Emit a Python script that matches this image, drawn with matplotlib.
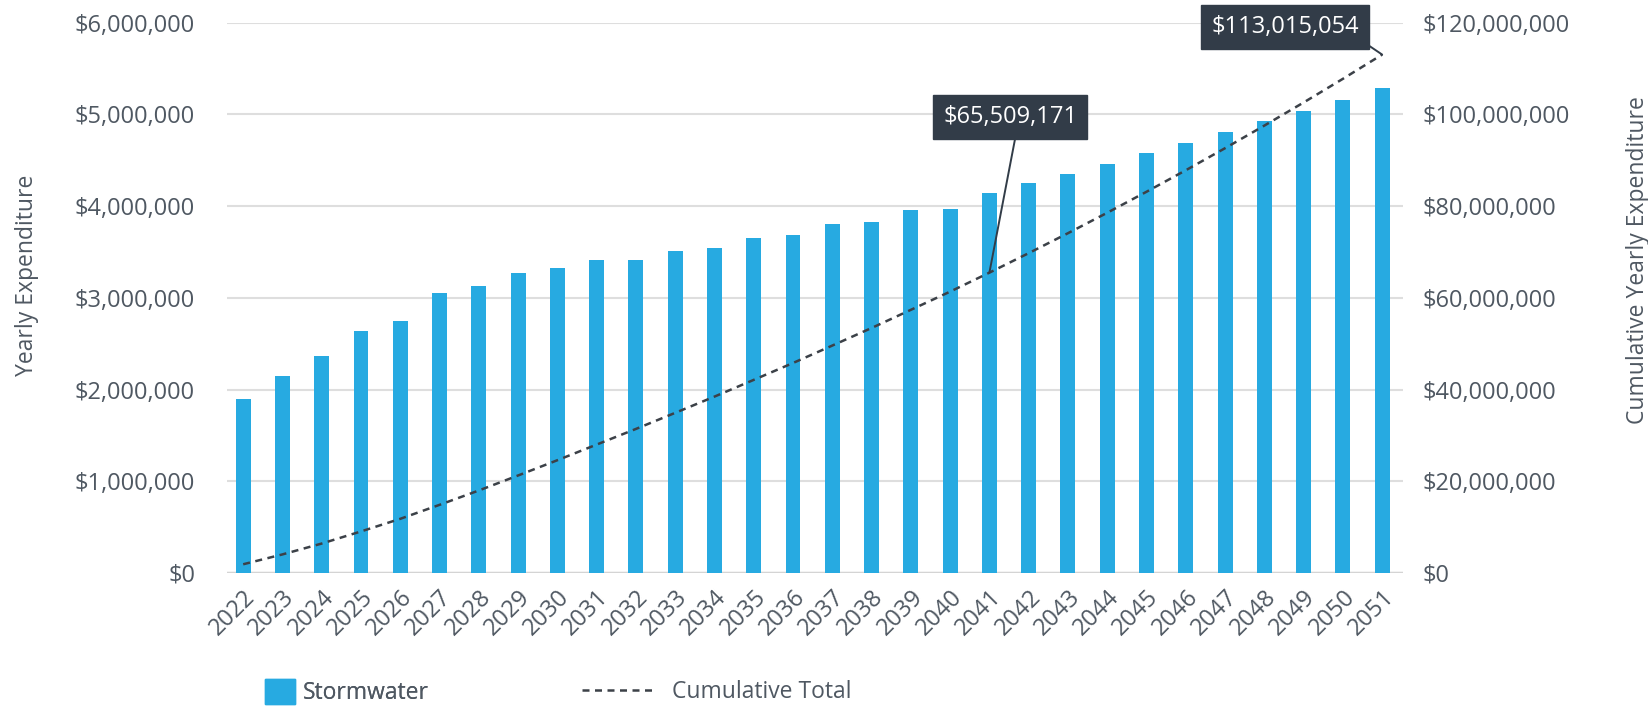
import numpy as np
import matplotlib
matplotlib.use('Agg')
import matplotlib.pyplot as plt
from matplotlib.lines import Line2D
from matplotlib.patches import Patch
from matplotlib.ticker import FuncFormatter, MultipleLocator

plt.rcParams['font.family'] = ['Open Sans', 'DejaVu Sans']

years = list(range(2022, 2052))
stormwater = [1.90, 2.15, 2.37, 2.64, 2.75, 3.05, 3.13, 3.27, 3.33, 3.41,
              3.41, 3.51, 3.54, 3.65, 3.68, 3.80, 3.83, 3.96, 3.97, 4.14,
              4.25, 4.35, 4.46, 4.575, 4.69, 4.81, 4.925, 5.04, 5.16, 5.29]
stormwater = np.array(stormwater) * 1e6
cumulative = np.cumsum(stormwater)

callout_years = [2041, 2051]
callout_text = ['$65,509,171', '$113,015,054']

bar_color = '#27aae1'
text_color = '#4f5862'
grid_color = '#dedede'
box_color = '#323c48'
line_color = '#3c4148'

fig = plt.figure(figsize=(16.49, 7.08), dpi=100)
ax = fig.add_axes([0.1377, 0.1907, 0.8508 - 0.1377, 0.968 - 0.1907])
ax2 = ax.twinx()

x = np.arange(len(years))
ax.bar(x, stormwater, width=0.38, color=bar_color, zorder=3)
ax2.plot(x, cumulative, color=line_color, lw=1.8,
         linestyle=(0, (2.8, 2.2)), zorder=4)

ax.set_xlim(-0.41, 29.53)
ax.set_ylim(0, 6e6)
ax2.set_ylim(0, 120e6)
ax.yaxis.set_major_locator(MultipleLocator(1e6))
ax2.yaxis.set_major_locator(MultipleLocator(20e6))
money = FuncFormatter(lambda v, p: '${:,.0f}'.format(v))
ax.yaxis.set_major_formatter(money)
ax2.yaxis.set_major_formatter(money)

ax.grid(axis='y', color=grid_color, lw=1.5, zorder=0)
ax.axhline(0, color='#d4d4d4', lw=2.5, zorder=2)
ax.set_axisbelow(True)

for a in (ax, ax2):
    for s in a.spines.values():
        s.set_visible(False)

ax.set_xticks(x)
ax.set_xticklabels([str(y) for y in years], rotation=45, ha='right',
                   rotation_mode='anchor')
ax.tick_params(axis='x', length=0, pad=9, labelsize=17, labelcolor=text_color)
ax.tick_params(axis='y', length=0, pad=23, labelsize=17, labelcolor=text_color)
ax2.tick_params(axis='y', length=0, pad=14, labelsize=17, labelcolor=text_color)

ax.set_ylabel('Yearly Expenditure', fontsize=16.5, color=text_color)
ax.yaxis.set_label_coords(-0.160, 0.54)
ax2.set_ylabel('Cumulative Yearly Expenditure', fontsize=16.5, color=text_color)
ax2.yaxis.set_label_coords(1.19, 0.569)

# callout boxes
offsets = [(15, 112), (-70, 20)]
relpos = [(0.55, 0.0), (1.0, 0.0)]
for yr, txt, off, rp in zip(callout_years, callout_text, offsets, relpos):
    i = years.index(yr)
    ax2.annotate(txt, xy=(i, cumulative[i]), xytext=off,
                 textcoords='offset points', ha='center', va='center',
                 fontsize=17, color='white', zorder=6,
                 bbox=dict(boxstyle='square,pad=0.42', fc=box_color,
                           ec=box_color),
                 arrowprops=dict(arrowstyle='-', color=box_color, lw=1.4,
                                 shrinkA=0, shrinkB=0, relpos=rp))

# legend
leg1 = fig.legend(handles=[Patch(color=bar_color, label='Stormwater')],
                  loc='center left', bbox_to_anchor=(265 / 1649, 1 - 692 / 708),
                  frameon=False, fontsize=16.5, handlelength=1.3,
                  handleheight=1.35, handletextpad=0.36, borderpad=0,
                  borderaxespad=0, labelcolor=text_color)
leg2 = fig.legend(handles=[Line2D([], [], color=line_color, lw=1.8,
                                  linestyle=(0, (2.8, 2.2)),
                                  label='Cumulative Total')],
                  loc='center left', bbox_to_anchor=(582 / 1649, 1 - 692 / 708),
                  frameon=False, fontsize=16.5, handlelength=3.25,
                  handletextpad=0.68, borderpad=0, borderaxespad=0,
                  labelcolor=text_color)
fig.add_artist(leg1)

fig.savefig('out.png', dpi=100)
